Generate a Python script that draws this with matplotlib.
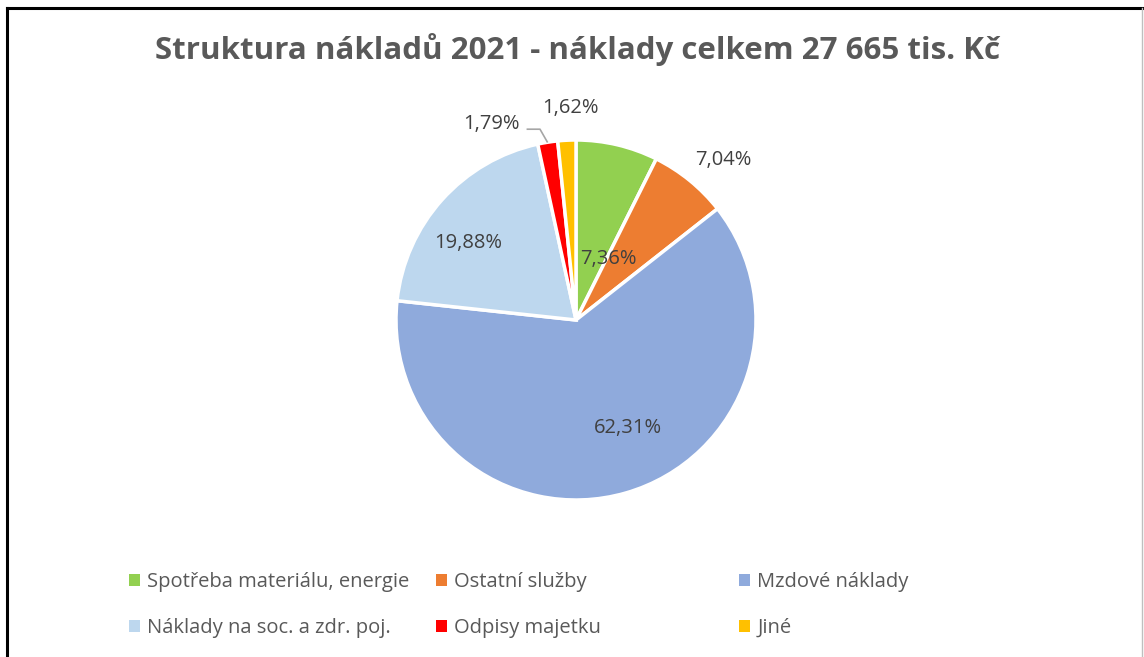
import matplotlib.pyplot as plt
from matplotlib.patches import Patch
from matplotlib.lines import Line2D

categories = ["Spotřeba materiálu, energie", "Ostatní služby", "Mzdové náklady",
              "Náklady na soc. a zdr. poj.", "Odpisy majetku", "Jiné"]
shares = [7.36, 7.04, 62.31, 19.88, 1.79, 1.62]
labels = ["7,36%", "7,04%", "62,31%", "19,88%", "1,79%", "1,62%"]
colors = ["#92D050", "#ED7D31", "#8FAADC", "#BDD7EE", "#FF0000", "#FFC000"]

plt.rcParams['font.family'] = ['Open Sans', 'DejaVu Sans']

W, H = 1144, 657
fig = plt.figure(figsize=(W / 100, H / 100), dpi=100)

# frame round the chart
fig.add_artist(Line2D([0.006, 0.006], [0.0, 0.988], color="black", lw=2.2, transform=fig.transFigure))
fig.add_artist(Line2D([0.006, 1.0], [0.988, 0.988], color="black", lw=2.2, transform=fig.transFigure))
fig.add_artist(Line2D([0.998, 0.998], [0.0, 0.988], color="#BFBFBF", lw=1, transform=fig.transFigure))

fig.text(0.505, 1 - 50 / H, "Struktura nákladů 2021 - náklady celkem 27 665 tis. Kč",
         ha="center", va="center", fontsize=22.5, fontweight="bold", color="#595959")

# pie: centre at (576, 320) px, radius ~180 px
R = 180
ax = fig.add_axes([(576 - R) / W, (H - 320 - R) / H, 2 * R / W, 2 * R / H])
ax.pie(shares, colors=colors, startangle=90, counterclock=False,
       wedgeprops=dict(edgecolor="white", linewidth=2.5))
ax.set_xlim(-1, 1)
ax.set_ylim(-1, 1)
ax.set_aspect("auto")
ax.axis("off")

label_pos = [(0.18, 0.34), (0.82, 0.89), (0.29, -0.60), (-0.60, 0.43), (-0.47, 1.09), (-0.03, 1.18)]
for (x, y), t in zip(label_pos, labels):
    ax.text(x, y, t, ha="center", va="center", fontsize=14.5, color="#404040", clip_on=False)

# leader line for the small red slice
ax.plot([-0.27, -0.20, -0.16], [1.06, 1.06, 0.99], color="#A6A6A6", lw=1.2, clip_on=False)

# legend: rows filled left to right, fixed column starts
col_x = [129, 436, 739]
for i, x0 in enumerate(col_x):
    idx = [i, i + 3]
    handles = [Patch(facecolor=colors[k], edgecolor="none") for k in idx]
    leg = fig.legend(handles, [categories[k] for k in idx], loc="upper left",
                     bbox_to_anchor=(x0 / W, 1 - 572 / H), frameon=False, fontsize=14.5,
                     handlelength=0.55, handleheight=0.55, handletextpad=0.35,
                     labelspacing=1.3, borderpad=0, borderaxespad=0)
    for t in leg.get_texts():
        t.set_color("#595959")

fig.savefig("out.png", dpi=100)
